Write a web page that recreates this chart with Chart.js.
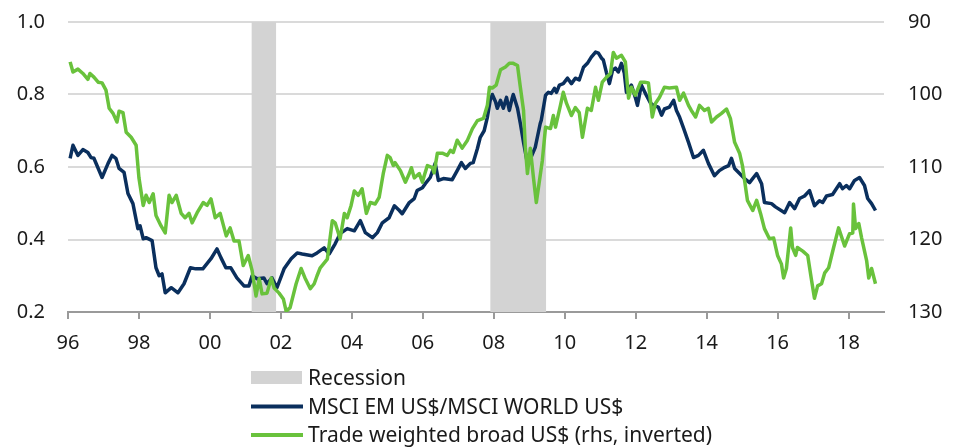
<!DOCTYPE html>
<html>
<head>
<meta charset="utf-8">
<script src="https://cdn.jsdelivr.net/npm/chart.js@4.4.0/dist/chart.umd.min.js"></script>
<style>
  html, body { margin: 0; padding: 0; background: #fff; }
  #wrap { width: 959px; height: 447px; position: relative; }
</style>
</head>
<body>
<div id="wrap"><canvas id="myChart"></canvas></div>
<script>
// MSCI EM / MSCI World (lhs) vs trade weighted broad US$ (rhs, inverted)

// recession periods (year fractions)
const recessionStart = [2001.17, 2007.90];
const recessionEnd   = [2001.87, 2009.48];

// MSCI EM US$ / MSCI WORLD US$
const emYears = [1996.06,1996.14,1996.28,1996.42,1996.56,1996.65,1996.73,1996.96,1997.13,1997.24,1997.35,1997.44,1997.58,1997.69,1997.83,1997.97,
  1998.03,1998.12,1998.20,1998.37,1998.48,1998.57,1998.65,1998.74,1998.91,1999.10,1999.27,1999.45,1999.60,1999.80,
  2000.03,2000.20,2000.31,2000.45,2000.59,2000.76,2000.96,2001.10,2001.19,2001.33,2001.52,2001.61,2001.75,2001.89,
  2002.09,2002.29,2002.46,2002.60,2002.88,2003.02,2003.22,2003.36,2003.53,2003.67,2003.87,2004.07,2004.24,2004.38,2004.58,2004.72,2004.86,
  2005.05,2005.20,2005.34,2005.42,2005.62,2005.76,2005.84,2005.99,2006.07,2006.21,2006.35,2006.44,2006.58,2006.83,2006.97,
  2007.09,2007.20,2007.34,2007.42,2007.54,2007.62,2007.73,2007.82,2007.90,2007.96,2008.05,2008.10,2008.19,2008.27,2008.36,2008.44,2008.52,2008.55,2008.67,2008.75,2008.84,2008.95,
  2009.00,2009.17,2009.31,2009.34,2009.46,2009.54,2009.62,2009.71,2009.77,2009.85,2009.96,2010.08,2010.19,2010.30,2010.41,2010.53,2010.64,2010.75,2010.87,2010.95,
  2011.04,2011.09,2011.18,2011.26,2011.35,2011.43,2011.51,2011.60,2011.68,2011.74,2011.88,2011.99,2012.05,2012.16,2012.30,2012.42,2012.50,2012.64,2012.73,2012.81,2012.95,
  2013.07,2013.15,2013.24,2013.35,2013.49,2013.63,2013.77,2013.91,2014.05,2014.22,2014.36,2014.51,2014.62,2014.70,2014.79,2014.93,
  2015.07,2015.21,2015.41,2015.55,2015.63,2015.83,2015.94,2016.20,2016.34,2016.48,2016.62,2016.76,2016.90,
  2017.04,2017.18,2017.27,2017.38,2017.55,2017.75,2017.83,2017.94,2018.03,2018.17,2018.31,2018.45,2018.54,2018.65,2018.76];
const emValues = [0.624,0.660,0.632,0.648,0.640,0.626,0.624,0.571,0.610,0.632,0.624,0.596,0.585,0.527,0.499,0.430,
  0.438,0.402,0.405,0.397,0.322,0.300,0.305,0.253,0.267,0.253,0.278,0.322,0.319,0.319,
  0.347,0.374,0.350,0.322,0.322,0.294,0.272,0.272,0.300,0.292,0.294,0.278,0.294,0.267,
  0.319,0.347,0.363,0.360,0.355,0.363,0.377,0.360,0.388,0.416,0.430,0.424,0.452,0.419,0.405,0.419,0.446,
  0.460,0.493,0.480,0.471,0.502,0.513,0.535,0.543,0.554,0.571,0.610,0.563,0.568,0.565,0.590,
  0.612,0.596,0.610,0.612,0.651,0.682,0.700,0.737,0.784,0.800,0.780,0.762,0.784,0.762,0.792,0.756,0.790,0.800,0.762,0.720,0.668,0.610,
  0.615,0.654,0.720,0.729,0.798,0.806,0.803,0.817,0.806,0.826,0.830,0.845,0.830,0.845,0.840,0.875,0.886,0.903,0.917,0.914,
  0.900,0.895,0.859,0.830,0.867,0.873,0.862,0.886,0.859,0.806,0.826,0.792,0.770,0.826,0.798,0.776,0.770,0.765,0.743,0.760,0.765,
  0.784,0.756,0.737,0.707,0.668,0.626,0.632,0.646,0.610,0.576,0.590,0.599,0.604,0.624,0.596,0.582,
  0.568,0.557,0.582,0.554,0.502,0.499,0.490,0.474,0.502,0.485,0.513,0.520,0.535,
  0.493,0.507,0.502,0.520,0.524,0.554,0.540,0.549,0.540,0.563,0.571,0.549,0.513,0.499,0.480];

// Trade weighted broad US$ (rhs, inverted)
const usdYears = [1996.06,1996.14,1996.28,1996.42,1996.56,1996.62,1996.73,1996.85,1996.96,1997.07,1997.16,1997.27,1997.38,1997.44,1997.55,1997.64,1997.78,1997.92,
  1998.00,1998.12,1998.20,1998.29,1998.40,1998.48,1998.62,1998.74,1998.85,1998.93,1999.05,1999.19,1999.30,1999.41,1999.50,1999.64,1999.81,1999.92,
  2000.03,2000.15,2000.29,2000.46,2000.57,2000.68,2000.82,2000.94,2001.08,2001.19,2001.30,2001.39,2001.47,2001.61,2001.73,2001.81,2001.95,
  2002.07,2002.15,2002.26,2002.43,2002.57,2002.68,2002.83,2002.94,2003.02,2003.11,2003.31,2003.45,2003.53,2003.67,2003.79,2003.87,2003.98,
  2004.07,2004.18,2004.29,2004.41,2004.52,2004.66,2004.77,2004.89,2005.00,2005.08,2005.17,2005.22,2005.37,2005.51,2005.62,2005.68,2005.76,2005.90,2005.99,
  2006.04,2006.13,2006.27,2006.32,2006.41,2006.55,2006.69,2006.78,2006.86,2006.97,2007.11,2007.26,2007.40,2007.54,2007.71,2007.82,2007.88,2007.96,
  2008.07,2008.19,2008.33,2008.44,2008.55,2008.67,2008.75,2008.84,2008.89,2008.95,2009.03,2009.12,2009.20,2009.37,2009.46,2009.60,2009.68,2009.74,2009.88,2009.96,
  2010.05,2010.19,2010.30,2010.41,2010.50,2010.64,2010.75,2010.87,2010.95,2011.06,2011.18,2011.29,2011.37,2011.46,2011.60,2011.71,2011.80,2011.88,2011.99,
  2012.14,2012.25,2012.36,2012.47,2012.56,2012.67,2012.81,2012.95,2013.15,2013.24,2013.35,2013.49,2013.57,2013.69,2013.80,2013.94,
  2014.05,2014.14,2014.28,2014.42,2014.56,2014.67,2014.79,2014.93,2015.01,2015.15,2015.30,2015.41,2015.52,2015.63,2015.77,2015.89,
  2016.00,2016.11,2016.17,2016.25,2016.37,2016.42,2016.51,2016.56,2016.71,2016.85,2016.96,2017.04,2017.13,2017.24,2017.33,2017.44,2017.58,2017.72,2017.89,
  2018.03,2018.12,2018.14,2018.20,2018.29,2018.37,2018.51,2018.57,2018.65,2018.76];
const usdValues = [95.5,96.9,96.5,97.1,97.9,97.1,97.6,98.3,98.4,99.4,101.9,102.6,103.8,102.3,102.5,105.2,105.9,107.0,
  111.5,115.3,113.9,114.9,113.7,116.7,118.1,119.1,113.9,114.9,113.9,116.4,117.0,116.4,117.7,116.3,114.9,115.3,
  114.4,117.0,116.4,119.5,118.4,120.2,120.2,123.6,122.2,124.3,127.8,125.4,127.5,127.4,125.3,126.7,127.4,
  128.2,129.9,129.4,126.1,124.0,125.3,126.8,126.1,125.0,123.9,122.7,117.4,117.7,119.9,116.4,117.0,115.3,
  113.3,113.9,113.0,116.4,114.9,115.1,114.2,110.8,108.4,108.7,109.8,109.4,110.5,112.1,110.9,110.1,111.5,110.9,112.1,
  111.2,109.8,110.1,110.8,108.1,108.1,108.4,107.7,108.0,106.3,107.4,106.3,104.7,103.6,103.3,101.5,99.0,99.1,
  98.7,96.6,96.2,95.7,95.7,96.0,99.0,102.2,107.3,110.9,107.4,111.5,114.9,109.1,104.5,104.7,102.9,104.5,101.5,99.7,
  101.2,102.9,101.8,102.5,105.9,101.9,102.2,99.0,100.8,98.3,97.6,97.1,94.2,95.0,94.6,95.5,100.5,99.0,100.1,
  98.3,98.3,98.4,103.1,101.2,100.4,99.0,99.1,99.0,100.8,99.8,101.5,102.2,103.1,101.5,102.2,
  101.9,103.8,103.1,102.6,102.0,103.3,106.6,108.1,109.8,114.6,116.0,114.6,116.4,118.5,119.9,119.8,
  122.2,123.4,125.3,124.0,118.4,121.1,122.2,121.1,121.6,122.2,125.7,128.1,126.4,126.1,124.6,123.9,121.1,118.4,120.9,
  119.2,119.1,115.1,118.5,117.8,119.8,122.9,125.3,124.0,126.1];

// x axis / y axes tick settings
const xMin = 1996, xMax = 2019, xStep = 2;
const leftMin = 0.2, leftMax = 1.0, leftStep = 0.2;
const rightMin = 90, rightMax = 130, rightStep = 10;

const navy = '#0a2f5d';
const green = '#69c23c';
const greyBar = '#d3d3d3';
const font = '"Noto Sans", "Open Sans", sans-serif';

const toPoints = (xs, ys) => xs.map((x, i) => ({ x: x, y: ys[i] }));

// one fill dataset per recession, only the first one shows up in the legend
const recessionSets = recessionStart.map((s, i) => ({
  type: 'line',
  label: 'Recession',
  legendKind: i === 0 ? 'box' : null,
  data: [{ x: s, y: leftMax }, { x: recessionEnd[i], y: leftMax }],
  yAxisID: 'y',
  fill: 'start',
  backgroundColor: greyBar,
  borderWidth: 0,
  pointRadius: 0,
  order: 5
}));

const datasets = [
  ...recessionSets,
  {
    label: 'MSCI EM US$/MSCI WORLD US$',
    legendKind: 'line',
    data: toPoints(emYears, emValues),
    yAxisID: 'y',
    borderColor: navy,
    borderWidth: 3.5,
    pointRadius: 0,
    fill: false,
    tension: 0,
    borderJoinStyle: 'round',
    order: 2
  },
  {
    label: 'Trade weighted broad US$ (rhs, inverted)',
    legendKind: 'line',
    data: toPoints(usdYears, usdValues),
    yAxisID: 'y2',
    borderColor: green,
    borderWidth: 3.5,
    pointRadius: 0,
    fill: false,
    tension: 0,
    borderJoinStyle: 'round',
    order: 1
  }
];

// legend drawn as a column under the chart
const bottomLegend = {
  id: 'bottomLegend',
  afterDraw(chart) {
    const ctx = chart.ctx;
    const items = chart.data.datasets.filter(d => d.legendKind);
    ctx.save();
    ctx.font = '21px ' + font;
    ctx.textBaseline = 'alphabetic';
    ctx.textAlign = 'left';
    items.forEach((ds, i) => {
      const base = 385 + i * 28.5;
      const mid = base - 7;
      if (ds.legendKind === 'box') {
        ctx.fillStyle = ds.backgroundColor;
        ctx.fillRect(251, 371, 51, 13);
      } else {
        ctx.strokeStyle = ds.borderColor;
        ctx.lineWidth = 4;
        ctx.beginPath();
        ctx.moveTo(251, mid);
        ctx.lineTo(303, mid);
        ctx.stroke();
      }
      ctx.fillStyle = '#1a1a1a';
      ctx.fillText(ds.label, 308, base);
    });
    ctx.restore();
  }
};

// the y axes should not push the plot down for their label half-heights
const noVertPad = s => { s.paddingTop = 0; s.paddingBottom = 0; };

const config = {
  type: 'line',
  data: { datasets },
  options: {
    responsive: true,
    maintainAspectRatio: false,
    devicePixelRatio: 1,
    animation: false,
    layout: { padding: { top: 22, left: 0, right: 0, bottom: 0 } },
    plugins: {
      legend: { display: false },
      tooltip: { enabled: false }
    },
    scales: {
      x: {
        type: 'linear',
        min: xMin,
        max: xMax,
        ticks: {
          stepSize: xStep,
          includeBounds: false,
          autoSkip: false,
          maxRotation: 0,
          padding: 12,
          color: '#1a1a1a',
          font: { family: font, size: 20 },
          callback: v => String(v % 100).padStart(2, '0')
        },
        grid: { drawOnChartArea: false, drawTicks: true, tickLength: 7, color: '#9a9a9a', lineWidth: 2 },
        border: { display: true, color: '#9a9a9a', width: 2 },
        afterFit: s => { s.height = 447 - 312; s.paddingLeft = 0; s.paddingRight = 0; }
      },
      y: {
        position: 'left',
        min: leftMin,
        max: leftMax,
        ticks: {
          stepSize: leftStep,
          padding: 23,
          color: '#1a1a1a',
          font: { family: font, size: 20 },
          callback: v => v.toFixed(1)
        },
        grid: { color: '#dadada', lineWidth: 2, drawTicks: false },
        border: { display: false },
        afterFit: s => { s.width = 68; noVertPad(s); }
      },
      y2: {
        position: 'right',
        min: rightMin,
        max: rightMax,
        reverse: true,
        ticks: {
          stepSize: rightStep,
          padding: 24,
          color: '#1a1a1a',
          font: { family: font, size: 20 }
        },
        grid: { drawOnChartArea: false, drawTicks: false },
        border: { display: false },
        afterFit: s => { s.width = 959 - 884; noVertPad(s); }
      }
    }
  },
  plugins: [bottomLegend]
};

const myChart = new Chart(document.getElementById('myChart'), config);
</script>
</body>
</html>
